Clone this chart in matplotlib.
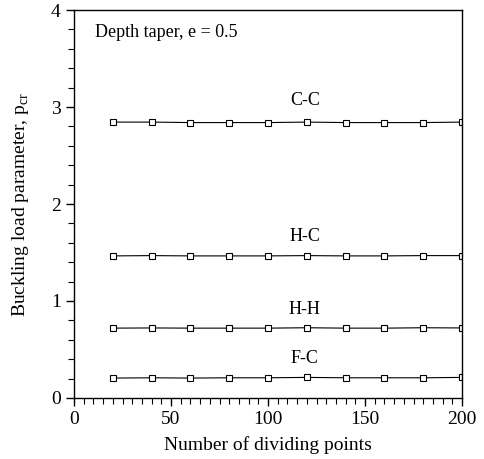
import matplotlib
matplotlib.use("Agg")
import matplotlib.pyplot as plt
from matplotlib.ticker import MultipleLocator

plt.rcParams['font.family'] = ['Liberation Serif', 'DejaVu Serif']

points = [20, 40, 60, 80, 100, 120, 140, 160, 180, 200]
cc = [2.845, 2.845, 2.84, 2.84, 2.84, 2.845, 2.84, 2.84, 2.84, 2.845]
hc = [1.465, 1.468, 1.465, 1.465, 1.465, 1.468, 1.465, 1.465, 1.468, 1.468]
hh = [0.72, 0.722, 0.72, 0.72, 0.72, 0.724, 0.72, 0.72, 0.724, 0.722]
fc = [0.205, 0.208, 0.205, 0.208, 0.208, 0.212, 0.208, 0.208, 0.208, 0.212]
series = [("C-C", cc, 3.07), ("H-C", hc, 1.66), ("H-H", hh, 0.91), ("F-C", fc, 0.41)]

fig = plt.figure(figsize=(4.85, 4.59), dpi=100)
ax = fig.add_axes([0.1526, 0.133, 0.8, 0.845])

for name, vals, ly in series:
    ax.plot(points, vals, color='black', lw=0.8, marker='s', ms=4,
            mfc='white', mec='black', mew=0.8)
    ax.text(119, ly, name, fontsize=13, ha='center', va='center')

ax.set_xlim(0, 200)
ax.set_ylim(0, 4)
ax.xaxis.set_major_locator(MultipleLocator(50))
ax.xaxis.set_minor_locator(MultipleLocator(5))
ax.yaxis.set_major_locator(MultipleLocator(1))
ax.yaxis.set_minor_locator(MultipleLocator(0.2))
ax.tick_params(which='major', length=6, width=1, labelsize=14, direction='out')
ax.tick_params(which='minor', length=4, width=0.8, direction='out')
for s in ax.spines.values():
    s.set_linewidth(1)

ax.text(0.055, 0.965, "Depth taper, e = 0.5", transform=ax.transAxes,
        fontsize=13, ha='left', va='top')
ax.set_xlabel("Number of dividing points", fontsize=14, labelpad=6)
ax.set_ylabel(r"Buckling load parameter, p$_{\mathregular{cr}}$", fontsize=14, labelpad=14)

fig.savefig("out.png", dpi=100)
